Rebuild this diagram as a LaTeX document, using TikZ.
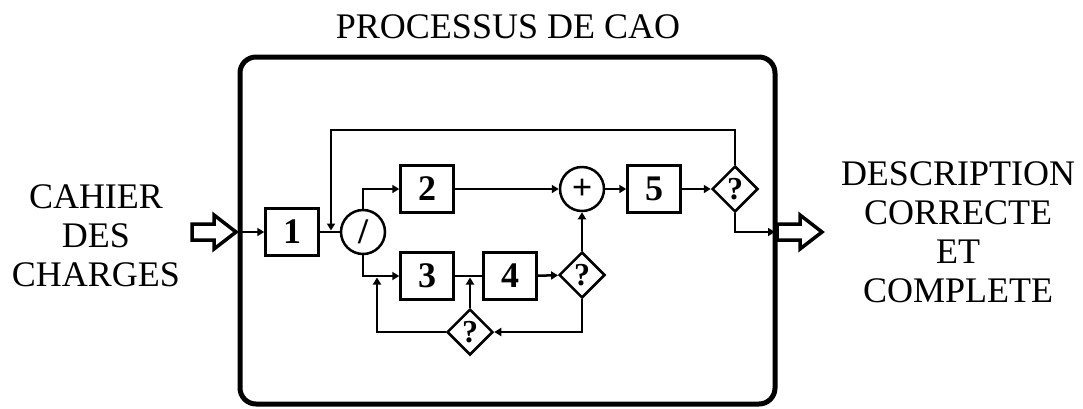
\documentclass[tikz,border=0pt]{standalone}
\usepackage{fontspec}
\setmainfont{Liberation Serif}
\usetikzlibrary{arrows.meta,positioning,shapes.geometric}
\tikzset{
  block/.style={rectangle, draw, line width=2.5pt, minimum width=53pt, minimum height=47pt,
                inner sep=0pt, font=\fontsize{36}{36}\selectfont\bfseries},
  junction/.style={circle, draw, line width=2.5pt, minimum size=44pt, inner sep=0pt,
                font=\fontsize{36}{36}\selectfont\bfseries},
  decision/.style={diamond, draw, line width=2.5pt, minimum width=46pt, minimum height=46pt,
                inner sep=0pt, font=\fontsize{32}{32}\selectfont\bfseries},
  arrow/.style={-{Triangle[length=7pt,width=8pt]}, line width=2.5pt},
  link/.style={line width=2.5pt},
  label/.style={font=\fontsize{36}{39}\selectfont, align=center},
  hollow/.style={line width=3.5pt, line join=miter},
  frame/.style={line width=5pt, rounded corners=16pt},
}

\begin{document}
\begin{tikzpicture}[x=1pt, y=-1pt]
\useasboundingbox (0,0) rectangle (1083,408);
% process frame and title
\draw[frame] (240,57) rectangle (775,404);
\node[label] (title) at (508,27) {PROCESSUS DE CAO};
\node[label] (input) at (96,236) {CAHIER\\DES\\CHARGES};
\node[label] (output) at (958,232) {DESCRIPTION\\CORRECTE\\ET\\COMPLETE};
% hollow arrows in and out
\draw[hollow] (192,224) -- (214,224) -- (214,215) -- (236,232) -- (214,249) -- (214,240) -- (192,240) -- cycle;
\draw[hollow] (777,224) -- (800,224) -- (800,215) -- (822,232) -- (800,249) -- (800,240) -- (777,240) -- cycle;
% steps
\node[block] (b1) at (292,232) {1};
\node[junction] (split) at (363,232) {/};
\node[block] (b2) at (427,189) {2};
\node[block] (b3) at (427,276) {3};
\node[block] (b4) at (510,276) {4};
\node[junction] (plus) at (582,189) {+};
\node[block] (b5) at (654,189) {5};
\node[decision] (q1) at (582,275) {?};
\node[decision] (q2) at (470,332) {?};
\node[decision] (q3) at (735,189) {?};
\coordinate (in) at (240,232);
\coordinate (out) at (775,232);
\coordinate (top) at (331,130);
\coordinate (fb) at (331,230.5);
\coordinate (j1) at (377,277.5);
\coordinate (j2) at (470,277.5);
% connectors
\foreach \a/\b in {in/b1, b2/plus, plus/b5, b5/q3, b4/q1, q1/plus}
  \draw[arrow] (\a) -- (\b);
\draw[link] (b1) -- (split);
\draw[link] (b3) -- (b4);
\draw[arrow] (split.north) |- (b2.west);
\draw[arrow] (split.south) |- (b3.west);
\draw[arrow] (q3.south) |- (out);
\draw[arrow] (q3.north) |- (top) -- (fb);
\draw[arrow] (q1.south) |- (q2.east);
\draw[arrow] (q2.west) -| (j1);
\draw[arrow] (q2.north) -- (j2);
\end{tikzpicture}
\end{document}
